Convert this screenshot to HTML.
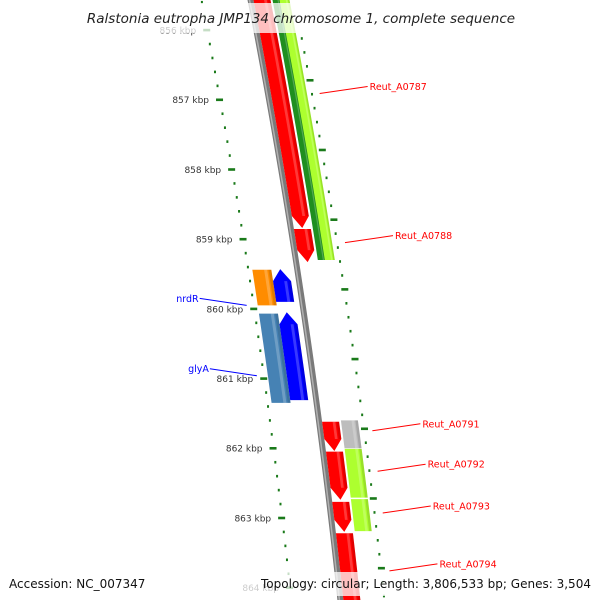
<!DOCTYPE html>
<html><head><meta charset="utf-8"><style>
html,body{margin:0;padding:0;background:#fff;width:600px;height:600px;overflow:hidden;}
svg{display:block;overflow:hidden;}
text{font-family:"DejaVu Sans","Liberation Sans",sans-serif;}
</style></head><body>
<svg id="map" width="600" height="600" viewBox="0 0 600 600" xmlns="http://www.w3.org/2000/svg">
<g id="ticks"></g>
<g id="genes"></g>
<g id="labels"></g>
<rect x="72" y="3" width="450" height="30" fill="#fff" opacity="0.75"/>
<text x="301" y="23" text-anchor="middle" font-size="13.5" font-style="italic" fill="#222">Ralstonia eutropha JMP134 chromosome 1, complete sequence</text>
<rect x="0" y="572" width="600" height="24" fill="#fff" opacity="0.75"/>
<text x="9" y="588" font-size="12" fill="#111">Accession: NC_007347</text>
<text x="591" y="588" text-anchor="end" font-size="12" textLength="330" lengthAdjust="spacingAndGlyphs" fill="#111">Topology: circular; Length: 3,806,533 bp; Genes: 3,504</text>
</svg>
<script>
// gene data (kbp)
const geneNames = ["red-orf-1","red-orf-2","green-orf","lime-orf-0","orange-nrdR","blue-nrdR","steelblue-glyA","blue-glyA","red-a","red-b","red-c","red-d","gray-orf","lime-orf-1","lime-orf-2"];
const geneStarts = [855.3,858.855,855.3,855.3,859.44,859.43,860.07,860.05,861.62,862.05,862.77,863.22,861.60,862.01,862.73];
const geneEnds   = [858.84,859.33,859.30,859.30,859.95,859.90,861.35,861.31,862.04,862.74,863.20,865.0,862.00,862.71,863.19];
const geneStrands= [1,1,1,1,-1,-1,-1,-1,1,1,1,1,1,1,1];
const geneTracks = [1,1,4,3,2,1,2,1,1,1,1,1,2,2,2];
const geneColors = ["#ff0000","#ff0000","#1f8f1f","#adff2f","#ff8c00","#0000ff","#4682b4","#0000ff","#ff0000","#ff0000","#ff0000","#ff0000","#bdbdbd","#adff2f","#adff2f"];
const geneArrows = [1,1,0,0,0,1,0,1,1,1,1,1,0,0,0];
// labels
const labelTexts = ["Reut_A0787","Reut_A0788","nrdR","glyA","Reut_A0791","Reut_A0792","Reut_A0793","Reut_A0794"];
const labelKbp   = [856.81,858.95,859.85,860.86,861.65,862.23,862.83,863.66];
const labelSides = [1,1,-1,-1,1,1,1,1];
// ruler
const majorTicks = [856,857,858,859,860,861,862,863,864];
const rulerStart = 855.4, rulerEnd = 865.0, minorStep = 0.2;
const rightRulerShift = 0.72;

const NS="http://www.w3.org/2000/svg";
function yOf(p){return 30+(p-856)*69.7;}
function base(y){return 247.5+0.193*y-7.2e-5*y*y;}
function mk(tag,attrs,parent){const e=document.createElementNS(NS,tag);for(const k in attrs)e.setAttribute(k,attrs[k]);parent.appendChild(e);return e;}

const ticksG=document.getElementById('ticks');
const genesG=document.getElementById('genes');
const labelsG=document.getElementById('labels');

// backbone
(function(){
  let l=[],r=[],m=[];
  for(let y=-10;y<=600;y+=10){l.push([base(y),y]);r.push([base(y)+6,y]);m.push([base(y)+2,y]);}
  const pts=l.concat(r.reverse()).map(p=>p.join(',')).join(' ');
  const bb=mk('polygon',{points:pts,fill:'#7a7a7a'},genesG);
  
  
  const hl=mk('polyline',{points:m.map(p=>p.join(',')).join(' '),fill:'none',stroke:'#b0b0b0','stroke-width':1.5},genesG);
  
  
})();

// ruler ticks
function drawRuler(side,shift){
  const n=Math.round((rulerEnd-rulerStart)/minorStep);
  for(let i=0;i<=n;i++){
    const p=rulerStart+i*minorStep;
    const isMajor=Math.abs(p-Math.round(p))<1e-6;
    const y=yOf(p+shift);
    if(y>598)continue;
    const b=base(y);
    let x0,x1;
    if(side<0){x0=isMajor?b-50:b-47;x1=isMajor?b-43:b-45;}
    else{x0=isMajor?b+44:b+46;x1=isMajor?b+51:b+48;}
    const t=mk('rect',{x:x0,y:y-1.2,width:x1-x0,height:2.6,fill:'#1a7a1a'},ticksG);
    
    
  }
}
drawRuler(-1,0);
drawRuler(1,rightRulerShift);
majorTicks.forEach(p=>{
  const y=yOf(p);
  const t=mk('text',{x:base(y)-57,y:y+3.5,'text-anchor':'end','font-size':'9',fill:'#333'},ticksG);
  t.textContent=p+' kbp';
  
  
});

// genes
const offs={"1":[6,23],"-1":[-23,-5],"2":[25,42],"-2":[-42,-23],"3":[32,42],"4":[25,33]};
geneNames.forEach((nm,i)=>{
  const y1=yOf(geneStarts[i]),y2=Math.min(yOf(geneEnds[i]),600);
  const o=offs[String(geneStrands[i]*geneTracks[i])];
  const head=12;
  let left=[],right=[];
  let a=y1,b=y2;
  if(geneArrows[i]&&geneStrands[i]>0&&yOf(geneEnds[i])<=600)b=y2-head;
  if(geneArrows[i]&&geneStrands[i]<0)a=y1+head;
  const steps=Math.max(2,Math.ceil((b-a)/10));
  for(let k=0;k<=steps;k++){const y=a+(b-a)*k/steps;left.push([base(y)+o[0],y]);right.push([base(y)+o[1],y]);}
  let pts;
  const mid=(o[0]+o[1])/2;
  if(b!==y2&&geneStrands[i]>0){
    pts=left.concat([[base(y2)+mid,y2]]).concat(right.reverse());
  }else if(geneArrows[i]&&geneStrands[i]<0){
    pts=[[base(y1)+mid,y1]].concat(right).concat(left.reverse());
  }else pts=left.concat(right.reverse());
  const g=mk('g',{},genesG);
  
  
  mk('polygon',{points:pts.map(p=>p.join(',')).join(' '),fill:geneColors[i]},g);
  const w=o[1]-o[0];
  let hl=[],hr=[];
  for(let k=0;k<=steps;k++){const y=a+(b-a)*k/steps;hl.push([base(y)+o[0]+w*0.62,y]);hr.push([base(y)+o[0]+w*0.78,y]);}
  mk('polygon',{points:hl.concat(hr.reverse()).map(p=>p.join(',')).join(' '),fill:'#fff',opacity:0.22},g);
  let dl=[],dr=[];
  for(let k=0;k<=steps;k++){const y=a+(b-a)*k/steps;dl.push([base(y)+o[0]+w*0.85,y]);dr.push([base(y)+o[1],y]);}
  mk('polygon',{points:dl.concat(dr.reverse()).map(p=>p.join(',')).join(' '),fill:'#000',opacity:0.12},g);
});

// labels
labelTexts.forEach((t,i)=>{
  const y=yOf(labelKbp[i]);
  const b=base(y);
  const col=labelSides[i]>0?'#ff0000':'#0000ff';
  let x1,x2,tx;
  if(labelSides[i]>0){x1=b+56;x2=b+104;tx=x2+2;}
  else{x1=b-52;x2=b-99;tx=x2-1;}
  const ln=mk('line',{x1:x1,y1:y+7,x2:x2,y2:y,stroke:col,'stroke-width':1},labelsG);
  
  
  const tt=mk('text',{x:tx,y:y+3.5,'font-size':'9.5',fill:col,'text-anchor':labelSides[i]>0?'start':'end'},labelsG);
  tt.textContent=t;
  
  
});
</script>
</body></html>
